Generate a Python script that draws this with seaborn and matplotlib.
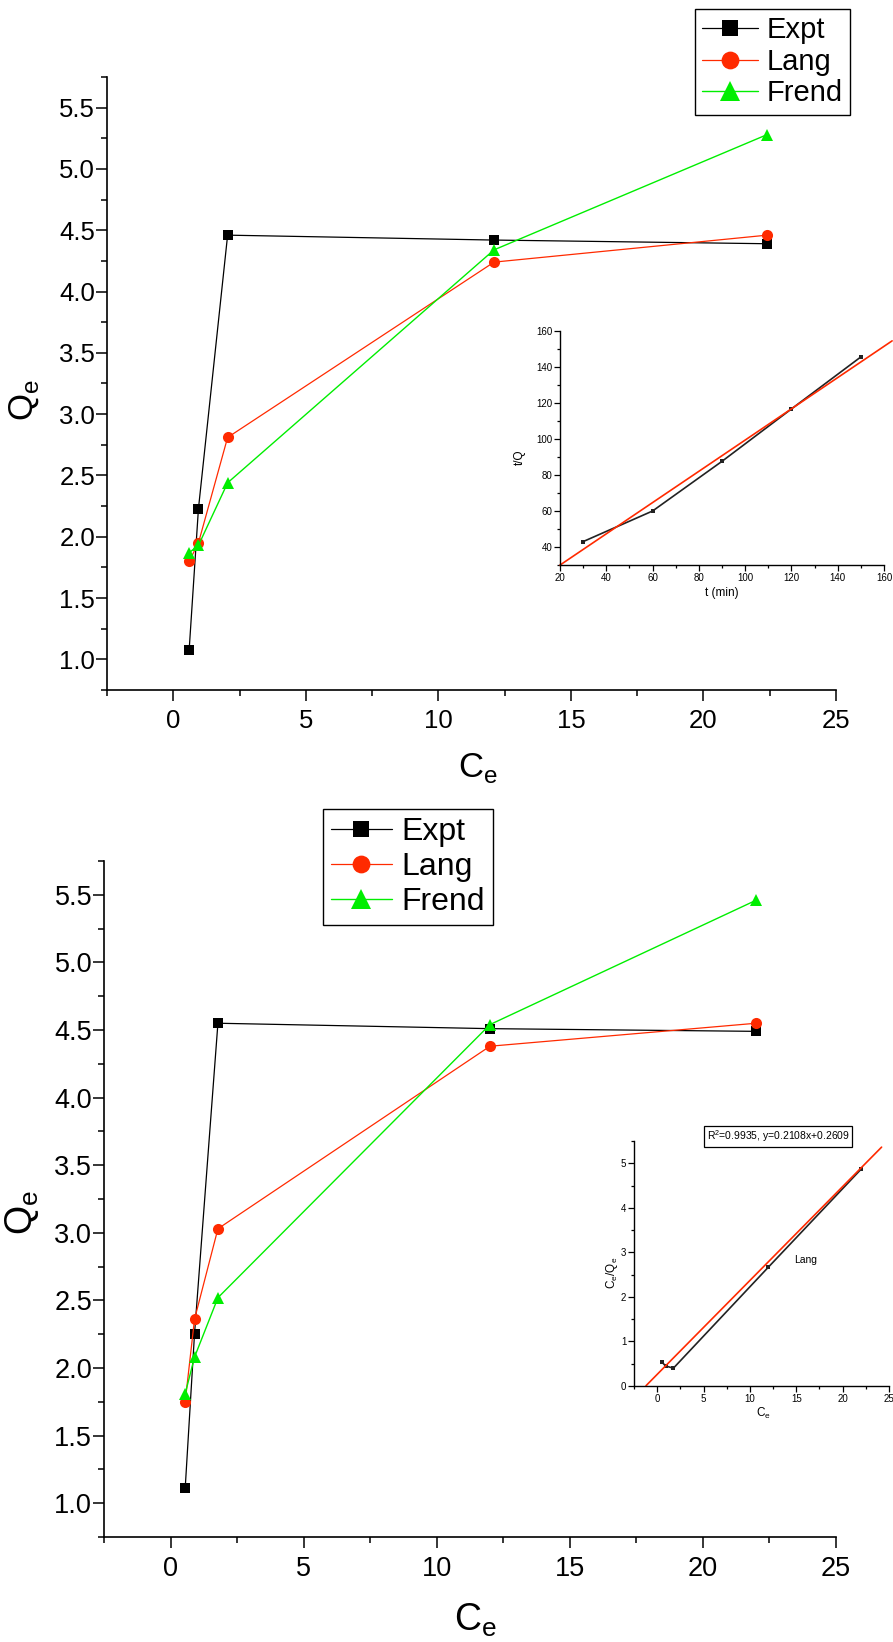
import numpy as np
import matplotlib
matplotlib.use('Agg')
import matplotlib.pyplot as plt
import seaborn as sns
from matplotlib import font_manager
from matplotlib.ticker import MultipleLocator, FormatStrFormatter

# Upper isotherm: Qe against Ce
ce_top = [0.6, 0.95, 2.05, 12.1, 22.4]
expt_top = [1.08, 2.23, 4.46, 4.42, 4.39]
lang_top = [1.80, 1.95, 2.81, 4.24, 4.46]
frend_top = [1.87, 1.93, 2.44, 4.34, 5.28]

# Lower isotherm: Qe against Ce
ce_bot = [0.55, 0.9, 1.78, 12.0, 22.0]
expt_bot = [1.11, 2.25, 4.55, 4.51, 4.49]
lang_bot = [1.75, 2.36, 3.03, 4.38, 4.55]
frend_bot = [1.81, 2.08, 2.52, 4.54, 5.46]

# Upper inset: t/Q against t
t_min = [30, 60, 90, 120, 150]
t_over_q = [43.0, 60.0, 87.6, 116.7, 145.6]
kin_slope, kin_icpt = 0.868, 12.6
kin_range = [20, 163.5]

# Lower inset: Ce/Qe against Ce (linear Langmuir)
ce_lin = [0.55, 0.9, 1.75, 12.0, 22.0]
ce_over_qe = [0.53, 0.45, 0.40, 2.67, 4.87]
lin_slope, lin_icpt = 0.2108, 0.2609
lin_range = [-1.2, 24.2]

sns.set_style('ticks', rc={'axes.edgecolor': 'black', 'xtick.color': 'black',
                           'ytick.color': 'black', 'text.color': 'black',
                           'axes.labelcolor': 'black'})
names = {f.name for f in font_manager.fontManager.ttflist}
main_font = 'Liberation Sans Narrow' if 'Liberation Sans Narrow' in names else 'Liberation Sans'
plt.rcParams['font.family'] = [main_font, 'DejaVu Sans']

RED = '#ff2a00'
GREEN = '#00ee00'

fig = plt.figure(figsize=(8.93, 16.42), dpi=100)
W, H = 893, 1642


def px_axes(left, top, right, bottom):
    return fig.add_axes([left / W, 1 - bottom / H, (right - left) / W, (bottom - top) / H])


def isotherm(ax, ce, expt, lang, frend, fs_tick, fs_label, leg_box, leg_fs, leg_space):
    sns.lineplot(x=ce, y=expt, ax=ax, color='black', marker='s', markersize=7,
                 markeredgewidth=0, linewidth=0.9, estimator=None, sort=False)
    sns.lineplot(x=ce, y=lang, ax=ax, color=RED, marker='o', markersize=8,
                 markeredgewidth=0, linewidth=0.9, estimator=None, sort=False)
    sns.lineplot(x=ce, y=frend, ax=ax, color=GREEN, marker='^', markersize=9,
                 markeredgewidth=0, linewidth=1.0, estimator=None, sort=False)
    ax.set_xlim(-2.5, 25)
    ax.set_ylim(0.75, 5.75)
    ax.xaxis.set_major_locator(MultipleLocator(5))
    ax.xaxis.set_minor_locator(MultipleLocator(2.5))
    ax.yaxis.set_major_locator(MultipleLocator(0.5))
    ax.yaxis.set_minor_locator(MultipleLocator(0.25))
    ax.yaxis.set_major_formatter(FormatStrFormatter('%.1f'))
    sns.despine(ax=ax)
    for s in ['left', 'bottom']:
        ax.spines[s].set_linewidth(1.2)
    ax.tick_params(which='major', length=8, width=1.1, labelsize=fs_tick)
    ax.tick_params(which='minor', length=4.5, width=1.1)
    ax.tick_params(axis='y', which='major', pad=0.5)
    ax.tick_params(axis='x', which='major', pad=6)
    ax.set_xlabel(r'C$_\mathregular{e}$', fontsize=fs_label, va='center')
    ax.set_ylabel(r'Q$_\mathregular{e}$', fontsize=fs_label, va='center')
    ax.set_facecolor('none')
    lines = ax.get_lines()[:3]
    leg = ax.legend(lines, ['Expt', 'Lang', 'Frend'], loc='upper left',
                    bbox_to_anchor=(leg_box[0] / W, 1 - leg_box[1] / H),
                    bbox_transform=fig.transFigure, fontsize=leg_fs, frameon=True,
                    fancybox=False, edgecolor='black', framealpha=1,
                    handlelength=1.9, handletextpad=0.3, borderpad=0.25,
                    labelspacing=leg_space, borderaxespad=0, markerscale=1.6)
    leg.get_frame().set_linewidth(1.0)
    return ax


ax1 = px_axes(107, 77, 836, 690)
isotherm(ax1, ce_top, expt_top, lang_top, frend_top, 18.5, 25, (695, 9), 21, 0.12)
ax1.xaxis.set_label_coords(0.509, -0.127)
ax1.yaxis.set_label_coords(-0.114, 0.473)

ax2 = px_axes(104, 861, 836, 1537)
isotherm(ax2, ce_bot, expt_bot, lang_bot, frend_bot, 19.5, 27, (323, 809), 23, 0.16)
ax2.xaxis.set_label_coords(0.507, -0.123)
ax2.yaxis.set_label_coords(-0.112, 0.48)


def small_axes(ax, fs=7):
    sns.despine(ax=ax)
    for s in ['left', 'bottom']:
        ax.spines[s].set_linewidth(1.0)
    ax.tick_params(which='major', length=4, width=0.9, labelsize=fs, pad=1.5)
    ax.tick_params(which='minor', length=2.2, width=0.9)
    ax.set_facecolor('none')


# upper inset
ins1 = px_axes(560, 331, 884, 565)
sns.lineplot(x=t_min, y=t_over_q, ax=ins1, color='#222222', marker='s', markersize=3.5,
             markeredgewidth=0, linewidth=1.2, estimator=None, sort=False)
kx = np.array(kin_range)
ins1.plot(kx, kin_slope * kx + kin_icpt, color=RED, linewidth=1.2, clip_on=False)
ins1.set_xlim(20, 160)
ins1.set_ylim(30, 160)
ins1.xaxis.set_major_locator(MultipleLocator(20))
ins1.xaxis.set_minor_locator(MultipleLocator(10))
ins1.yaxis.set_major_locator(MultipleLocator(20))
ins1.yaxis.set_minor_locator(MultipleLocator(10))
small_axes(ins1)
ins1.set_xlabel('t (min)', fontsize=8.5, va='center')
ins1.set_ylabel('t/Q', fontsize=8.5, va='center')
ins1.xaxis.set_label_coords(0.5, -0.12)
ins1.yaxis.set_label_coords(-0.123, 0.46)

# lower inset
ins2 = px_axes(634, 1141, 889, 1386)
sns.lineplot(x=ce_lin, y=ce_over_qe, ax=ins2, color='#222222', marker='s', markersize=3.5,
             markeredgewidth=0, linewidth=1.2, estimator=None, sort=False)
lx = np.array(lin_range)
ins2.plot(lx, lin_slope * lx + lin_icpt, color=RED, linewidth=1.2)
ins2.set_xlim(-2.5, 25)
ins2.set_ylim(0, 5.5)
ins2.xaxis.set_major_locator(MultipleLocator(5))
ins2.xaxis.set_minor_locator(MultipleLocator(2.5))
ins2.yaxis.set_major_locator(MultipleLocator(1))
ins2.yaxis.set_minor_locator(MultipleLocator(0.5))
small_axes(ins2)
ins2.set_xlabel(r'C$_\mathregular{e}$', fontsize=8.5, va='center')
ins2.set_ylabel(r'C$_\mathregular{e}$/Q$_\mathregular{e}$', fontsize=8.5, va='center')
ins2.xaxis.set_label_coords(0.506, -0.11)
ins2.yaxis.set_label_coords(-0.086, 0.46)
ins2.text(14.8, 2.83, 'Lang', fontsize=7.5, ha='left', va='center')
ins2.text(0.565, 1.02, 'R$^\\mathregular{2}$=0.9935, y=0.2108x+0.2609', transform=ins2.transAxes,
          fontsize=7.5, ha='center', va='center',
          bbox=dict(boxstyle='square,pad=0.25', fc='white', ec='black', lw=0.9))

fig.savefig('out.png', dpi=100)
